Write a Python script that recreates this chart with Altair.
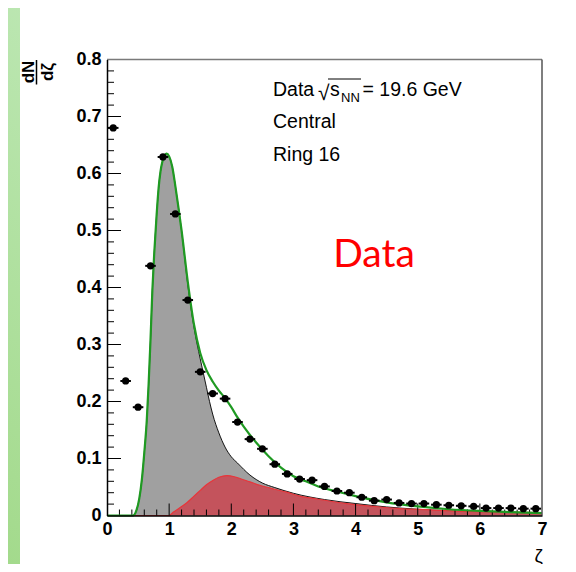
import altair as alt
import pandas as pd

# ---------------- data ----------------
zeta = [0.1, 0.3, 0.5, 0.7, 0.9, 1.1, 1.3, 1.5, 1.7, 1.9, 2.1, 2.3, 2.5, 2.7,
        2.9, 3.1, 3.3, 3.5, 3.7, 3.9, 4.1, 4.3, 4.5, 4.7, 4.9, 5.1, 5.3, 5.5,
        5.7, 5.9, 6.1, 6.3, 6.5, 6.7, 6.9]
dndz = [0.680, 0.236, 0.190, 0.438, 0.629, 0.529, 0.378, 0.252, 0.214, 0.205,
        0.164, 0.134, 0.117, 0.090, 0.073, 0.064, 0.062, 0.051, 0.043, 0.040,
        0.032, 0.026, 0.028, 0.022, 0.021, 0.021, 0.019, 0.018, 0.017, 0.016,
        0.013, 0.013, 0.013, 0.012, 0.012]
xerr = 0.085

# total fit (green)
fit_x = [0.0, 0.42, 0.47, 0.52, 0.56, 0.60, 0.64, 0.67, 0.70, 0.73, 0.76, 0.80,
         0.83, 0.86, 0.89, 0.93, 0.96, 1.00, 1.05, 1.10, 1.15, 1.20, 1.30, 1.40,
         1.50, 1.60, 1.70, 1.80, 1.90, 2.00, 2.10, 2.20, 2.40, 2.60, 2.80, 3.00,
         3.20, 3.40, 3.70, 4.00, 4.50, 5.00, 5.50, 6.00, 6.50, 7.00]
fit_y = [0, 0, 0.008, 0.030, 0.062, 0.110, 0.167, 0.231, 0.308, 0.395, 0.460,
         0.530, 0.574, 0.603, 0.620, 0.632, 0.635, 0.630, 0.612, 0.578, 0.540,
         0.500, 0.410, 0.335, 0.285, 0.255, 0.235, 0.219, 0.206, 0.190, 0.172,
         0.156, 0.128, 0.104, 0.084, 0.069, 0.060, 0.051, 0.042, 0.034, 0.023,
         0.016, 0.011, 0.008, 0.006, 0.004]

# first component (gray)
gray_x = [0.0, 0.42, 0.47, 0.52, 0.56, 0.60, 0.64, 0.67, 0.70, 0.73, 0.76, 0.80,
          0.83, 0.86, 0.89, 0.93, 0.96, 1.00, 1.05, 1.10, 1.15, 1.20, 1.30, 1.40,
          1.50, 1.55, 1.60, 1.65, 1.70, 1.80, 1.90, 2.00, 2.10, 2.30, 2.50, 2.70,
          3.00, 3.50, 4.00, 4.50, 5.00, 5.50, 6.00, 6.50, 7.00]
gray_y = [0, 0, 0.008, 0.030, 0.062, 0.110, 0.167, 0.231, 0.308, 0.395, 0.460,
          0.530, 0.574, 0.603, 0.620, 0.632, 0.635, 0.630, 0.612, 0.578, 0.540,
          0.500, 0.405, 0.330, 0.275, 0.250, 0.225, 0.200, 0.178, 0.145, 0.120,
          0.103, 0.092, 0.071, 0.057, 0.049, 0.039, 0.028, 0.021, 0.015, 0.011,
          0.008, 0.006, 0.005, 0.004]

# second component (red)
red_x = [0.45, 1.00, 1.07, 1.15, 1.28, 1.40, 1.50, 1.60, 1.71, 1.80, 1.93, 2.05,
         2.14, 2.30, 2.46, 2.70, 2.89, 3.10, 3.38, 3.86, 4.30, 4.72, 5.20, 5.79,
         6.30, 7.00]
red_y = [0, 0, 0.006, 0.012, 0.022, 0.034, 0.044, 0.054, 0.062, 0.067, 0.070,
         0.068, 0.065, 0.059, 0.053, 0.046, 0.041, 0.034, 0.029, 0.021, 0.016,
         0.012, 0.010, 0.007, 0.006, 0.005]

x_labels = [0, 1, 2, 3, 4, 5, 6, 7]
y_labels = [0, 0.1, 0.2, 0.3, 0.4, 0.5, 0.6, 0.7, 0.8]
x_major = [1, 2, 3, 4, 5, 6]
x_minor = [round(i * 0.2, 2) for i in range(1, 35) if i % 5 != 0]
y_major = [0.1, 0.2, 0.3, 0.4, 0.5, 0.6, 0.7]
y_minor = [round(i * 0.02, 3) for i in range(1, 40) if i % 5 != 0]

# ---------------- layout ----------------
W, H = 435, 456
PADL, PADT = 99, 51.5
PADR = 560 - PADL - W
PADB = 556 - PADT - H
FONT = "Liberation Sans"

pts = pd.DataFrame({"x": zeta, "y": dndz,
                    "xlo": [v - xerr for v in zeta], "xhi": [v + xerr for v in zeta]})
fit = pd.DataFrame({"x": fit_x, "y": fit_y})
gray = pd.DataFrame({"x": gray_x, "y": gray_y})
red = pd.DataFrame({"x": red_x, "y": red_y})

xs = alt.Scale(domain=[0, 7], nice=False, zero=False)
ys = alt.Scale(domain=[0, 0.8], nice=False, zero=False)
xaxis = alt.Axis(values=x_labels, title=None, grid=False, tickSize=0, labelFlush=False,
                 labelFont=FONT, labelFontWeight="bold", labelFontSize=18,
                 labelColor="black", labelPadding=5, domainColor="black",
                 domainWidth=1.5, zindex=2, labelOverlap=False)
yaxis = alt.Axis(values=y_labels, title=None, grid=False, tickSize=0, labelFlush=False,
                 labelFont=FONT, labelFontWeight="bold", labelFontSize=18,
                 labelColor="black", labelPadding=6, domainColor="black",
                 domainWidth=1.5, zindex=2, labelOverlap=False,
                 labelExpr="datum.value == 0 ? '0' : format(datum.value, '.1f')")


def X(f="x"):
    return alt.X(f"{f}:Q", scale=xs, axis=xaxis)


def Y(f="y"):
    return alt.Y(f"{f}:Q", scale=ys, axis=yaxis)


one = alt.Data(values=[{}])

# background decoration
bg = alt.Chart(one).mark_rect(
    color=alt.LinearGradient(gradient="linear", x1=1, y1=0, x2=0, y2=1,
                             stops=[alt.GradientStop(color="#d2f2d4", offset=0),
                                    alt.GradientStop(color="#a3da8c", offset=1)])
).encode(x=alt.value(-PADL), x2=alt.value(W + PADR), y=alt.value(-PADT), y2=alt.value(H + PADB))
panel = alt.Chart(one).mark_rect(color="white").encode(
    x=alt.value(-87), x2=alt.value(W + PADR), y=alt.value(-PADT), y2=alt.value(H + PADB))

gray_area = alt.Chart(gray).mark_area(
    color="#a0a0a0", opacity=1, interpolate="monotone",
    line={"color": "black", "strokeWidth": 0.9}
).encode(x=X(), y=Y())
red_area = alt.Chart(red).mark_area(
    color="#c4535c", opacity=1, interpolate="monotone",
    line={"color": "#e8353a", "strokeWidth": 1.2}
).encode(x=X(), y=Y())

xt_major = alt.Chart(pd.DataFrame({"x": x_major})).mark_tick(
    color="black", thickness=1, size=12, orient="vertical", opacity=1
).encode(x=X(), y=alt.value(H - 6))
xt_minor = alt.Chart(pd.DataFrame({"x": x_minor})).mark_tick(
    color="black", thickness=1, size=6, orient="vertical", opacity=1
).encode(x=X(), y=alt.value(H - 3))
yt_major = alt.Chart(pd.DataFrame({"y": y_major})).mark_tick(
    color="black", thickness=1, size=14, orient="horizontal", opacity=1
).encode(y=Y(), x=alt.value(7))
yt_minor = alt.Chart(pd.DataFrame({"y": y_minor})).mark_tick(
    color="black", thickness=1, size=7, orient="horizontal", opacity=1
).encode(y=Y(), x=alt.value(3.5))

fit_line = alt.Chart(fit).mark_line(color="#1f9a22", strokeWidth=2.2, interpolate="monotone").encode(
    x=X(), y=Y())

ebars = alt.Chart(pts).mark_rule(color="black", strokeWidth=2).encode(
    x=X("xlo"), x2="xhi", y=Y())
dots = alt.Chart(pts).mark_circle(color="black", opacity=1, size=52).encode(x=X(), y=Y())

frame_top = alt.Chart(one).mark_rule(color="#7a7a7a", strokeWidth=1.5).encode(
    x=alt.value(0), x2=alt.value(W), y=alt.value(0))
frame_right = alt.Chart(one).mark_rule(color="#555555", strokeWidth=1.5).encode(
    x=alt.value(W), y=alt.value(0), y2=alt.value(H))


def txt(text, x, y, size, color="black", weight="normal", font=FONT, align="left",
        baseline="alphabetic", angle=0):
    kw = dict(text=text, fontSize=size, color=color, fontWeight=weight, font=font,
              align=align, baseline=baseline)
    if angle:
        kw["angle"] = angle
    return alt.Chart(one).mark_text(**kw).encode(x=alt.value(x), y=alt.value(y))


texts = [
    txt("Data", 166, 36.5, 19.5),
    txt("\u221a", 211, 40.5, 21),
    txt("s", 223, 36.5, 19.5),
    txt("NN", 234, 42, 13),
    txt("= 19.6 GeV", 255.5, 36.5, 19.5),
    txt("Central", 166, 68.8, 19.5),
    txt("Ring 16", 166, 101.2, 19.5),
    txt("Data", 267, 207.5, 39, color="#ff0000", font="Lato", align="center"),
    txt("\u03b6", W + 1, 502, 19, align="right"),
    txt("dN", -78.5, 12.5, 17, weight="bold", align="center", baseline="middle", angle=270),
    txt("d\u03b6", -59, 12.5, 17, weight="bold", align="center", baseline="middle", angle=270),
]
overline = alt.Chart(one).mark_rule(color="black", strokeWidth=1).encode(
    x=alt.value(221), x2=alt.value(254), y=alt.value(19.5))
fracbar = alt.Chart(one).mark_rule(color="black", strokeWidth=1.5).encode(
    x=alt.value(-70.5), y=alt.value(0.5), y2=alt.value(25))

chart = alt.layer(
    bg, panel, gray_area, red_area, xt_minor, xt_major, yt_minor, yt_major,
    fit_line, ebars, dots, frame_top, frame_right, overline, fracbar, *texts
).properties(
    width=W, height=H,
    padding={"left": PADL, "top": PADT, "right": PADR, "bottom": PADB},
    autosize=alt.AutoSizeParams(type="none"),
    background="white",
).configure_view(stroke=None)

chart.save("out.html", embed_options={"renderer": "svg", "actions": False})
